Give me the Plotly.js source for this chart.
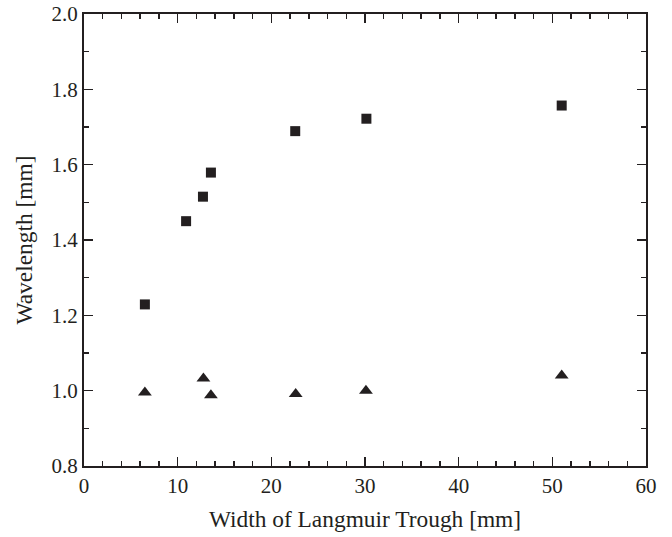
<!DOCTYPE html>
<html>
<head>
<meta charset="utf-8">
<script src="https://cdn.plot.ly/plotly-3.0.1.min.js"></script>
<style>html,body{margin:0;padding:0;background:#fff;}#chart{width:672px;height:537px;}</style>
</head>
<body>
<div id="chart"></div>
<script>
const squareX = [6.5, 10.9, 12.7, 13.55, 22.55, 30.15, 51.0];
const squareY = [1.229, 1.450, 1.515, 1.579, 1.689, 1.722, 1.757];
const triangleX = [6.5, 12.75, 13.55, 22.6, 30.1, 51.0];
const triangleY = [0.995, 1.032, 0.988, 0.991, 1.000, 1.040];
const xTickVals = [0, 10, 20, 30, 40, 50, 60];
const yTickVals = [0.8, 1.0, 1.2, 1.4, 1.6, 1.8, 2.0];
const yTickText = ['0.8', '1.0', '1.2', '1.4', '1.6', '1.8', '2.0'];
const xTitle = 'Width of Langmuir Trough [mm]';
const yTitle = 'Wavelength [mm]';

const ink = '#231f20';
const fam = '"Liberation Serif", "Times New Roman", serif';
const tickFont = {family: fam, size: 21, color: ink};
const titleFont = {family: fam, size: 23.4, color: ink};

const traces = [
  {x: squareX, y: squareY, type: 'scatter', mode: 'markers',
   marker: {symbol: 'square', size: 10, color: ink}},
  {x: triangleX, y: triangleY, type: 'scatter', mode: 'markers',
   marker: {symbol: 'triangle-up', size: 12, color: ink}}
];

const axisCommon = {
  showgrid: false, zeroline: false, showline: true, linecolor: ink, linewidth: 2,
  mirror: 'ticks', ticks: 'inside', ticklen: 9, tickwidth: 1.5, tickcolor: ink,
  tickfont: tickFont
};

const layout = {
  width: 672, height: 537,
  margin: {l: 84, r: 26, t: 14, b: 71},
  paper_bgcolor: '#fff', plot_bgcolor: '#fff',
  showlegend: false,
  font: tickFont,
  xaxis: Object.assign({}, axisCommon, {
    range: [0, 60], tickvals: xTickVals,
    minor: {dtick: 2, ticks: 'inside', ticklen: 5, tickwidth: 1.5, tickcolor: ink, showgrid: false},
    title: {text: xTitle, font: titleFont, standoff: 13}
  }),
  yaxis: Object.assign({}, axisCommon, {
    range: [0.8, 2.0], tickvals: yTickVals, ticktext: yTickText,
    minor: {dtick: 0.1, ticks: 'inside', ticklen: 5, tickwidth: 1.5, tickcolor: ink, showgrid: false},
    title: {text: yTitle, font: titleFont, standoff: 12}
  })
};

Plotly.newPlot('chart', traces, layout, {displayModeBar: false, staticPlot: true});
</script>
</body>
</html>
